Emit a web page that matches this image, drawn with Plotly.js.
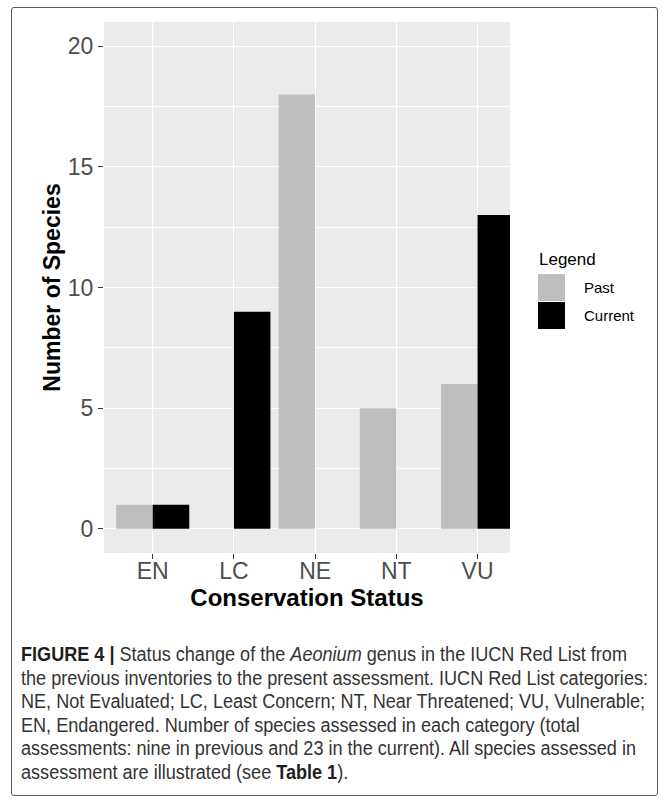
<!DOCTYPE html>
<html>
<head>
<meta charset="utf-8">
<script src="https://cdn.plot.ly/plotly-3.0.1.min.js"></script>
<style>
  html, body { margin: 0; padding: 0; background: #fff; width: 669px; height: 800px; overflow: hidden; }
  #frame { position: absolute; left: 11px; top: 7px; width: 645px; height: 787px; border: 1.5px solid #5a5a5a; border-radius: 3px; }
  #chart { position: absolute; left: 0; top: 0; width: 669px; height: 620px; }
  #caption { position: absolute; left: 21px; top: 643px; width: 640px; font-family: "Liberation Sans", Arial, sans-serif; font-size: 20px; line-height: 23.6px; color: #333333; white-space: nowrap; }
  #caption .l { display: inline-block; transform-origin: 0 50%; }
  #caption b { color: #1e1e1e; }
</style>
</head>
<body>
<div id="frame"></div>
<div id="chart"></div>
<div id="caption">
  <span class="l"><b>FIGURE 4 |</b> Status change of the <i>Aeonium</i> genus in the IUCN Red List from</span><br>
  <span class="l" id="refline">the previous inventories to the present assessment. IUCN Red List categories:</span><br>
  <span class="l">NE, Not Evaluated; LC, Least Concern; NT, Near Threatened; VU, Vulnerable;</span><br>
  <span class="l">EN, Endangered. Number of species assessed in each category (total</span><br>
  <span class="l">assessments: nine in previous and 23 in the current). All species assessed in</span><br>
  <span class="l">assessment are illustrated (see <b>Table 1</b>).</span>
</div>
<script>
// ---- data ----
const categories = ["EN", "LC", "NE", "NT", "VU"];
const pastValues = [1, 0, 18, 5, 6];
const currentValues = [1, 9, 0, 0, 13];
const seriesNames = ["Past", "Current"];
const seriesColors = ["#BEBEBE", "#000000"];
const yTickVals = [0, 5, 10, 15, 20];
const legendTitle = "Legend";
const xTitle = "Conservation Status";
const yTitle = "Number of Species";

// ---- caption: condense to match the journal's narrow face ----
(function () {
  const lines = document.querySelectorAll("#caption .l");
  const w = document.getElementById("refline").getBoundingClientRect().width;
  const s = 627 / w;
  lines.forEach(l => { l.style.transform = "scaleX(" + s + ")"; });
})();

// ---- layout geometry (pixels) ----
const W = 669, H = 620;
const M = { l: 104, r: 159, t: 22, b: 67 };
const pw = W - M.l - M.r, ph = H - M.t - M.b;
const px = x => (x - M.l) / pw;
const py = y => (H - M.b - y) / ph;

const traces = [pastValues, currentValues].map((vals, i) => ({
  type: "bar",
  x: categories,
  y: vals,
  name: seriesNames[i],
  marker: { color: seriesColors[i], line: { width: 0 } },
  hoverinfo: "x+y+name",
  showlegend: false
}));

const shapes = [];
const annotations = [];
// legend (manual, for ggplot-sized keys)
annotations.push({
  xref: "paper", yref: "paper", x: px(537), y: py(259),
  xanchor: "left", yanchor: "middle", showarrow: false,
  text: legendTitle, font: { family: "Liberation Sans, Arial, sans-serif", size: 17, color: "#000" }
});
seriesNames.forEach((name, i) => {
  const top = 274 + i * 28;
  shapes.push({
    type: "rect", xref: "paper", yref: "paper",
    x0: px(538), x1: px(565), y0: py(top), y1: py(top + 27),
    fillcolor: seriesColors[i], line: { width: 0 }
  });
  annotations.push({
    xref: "paper", yref: "paper", x: px(582), y: py(top + 13.5),
    xanchor: "left", yanchor: "middle", showarrow: false,
    text: name, font: { family: "Liberation Sans, Arial, sans-serif", size: 15, color: "#000" }
  });
});

const layout = {
  width: W, height: H,
  margin: M,
  paper_bgcolor: "rgba(0,0,0,0)",
  plot_bgcolor: "#EBEBEB",
  barmode: "group",
  bargap: 0.1,
  bargroupgap: 0,
  font: { family: "Liberation Sans, Arial, sans-serif" },
  xaxis: {
    type: "category",
    range: [-0.6, 4.4],
    showgrid: true, gridcolor: "#FFFFFF", gridwidth: 1.4,
    zeroline: false, showline: false,
    ticks: "outside", ticklen: 5, tickwidth: 1.2, tickcolor: "#333333",
    ticklabelstandoff: -8,
    tickfont: { size: 23, color: "#4D4D4D" },
    title: { text: xTitle, font: { size: 24, color: "#000", weight: "bold" }, standoff: 0 },
    fixedrange: true
  },
  yaxis: {
    range: [-1, 21],
    tickvals: yTickVals,
    showgrid: true, gridcolor: "#FFFFFF", gridwidth: 1.4,
    minor: { dtick: 2.5, tick0: 0, showgrid: true, gridcolor: "#FFFFFF", gridwidth: 0.7 },
    zeroline: false, showline: false,
    ticks: "outside", ticklen: 5, tickwidth: 1.2, tickcolor: "#333333",
    tickfont: { size: 23, color: "#4D4D4D" },
    title: { text: yTitle, font: { size: 23, color: "#000", weight: "bold" }, standoff: 0 },
    fixedrange: true
  },
  shapes: shapes,
  annotations: annotations
};

Plotly.newPlot("chart", traces, layout, { displayModeBar: false });
</script>
</body>
</html>
